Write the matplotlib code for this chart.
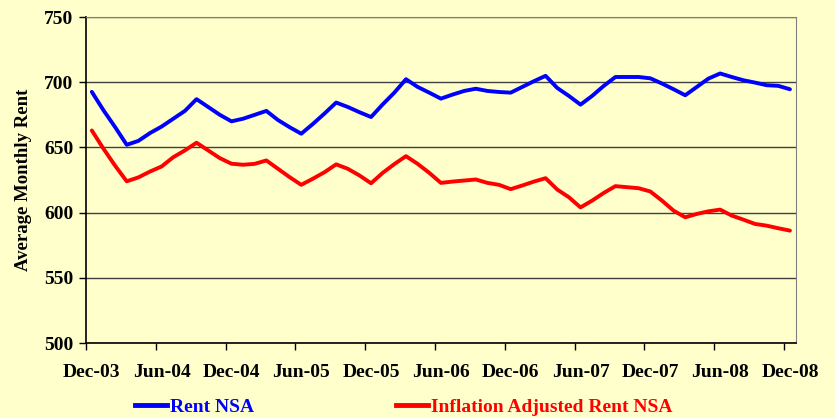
import numpy as np
import matplotlib.pyplot as plt
from matplotlib.lines import Line2D

# monthly values, Dec-03 .. Dec-08 (61 months)
rent_nsa = [692.6, 678.5, 665.6, 652.0, 655.0, 661.0, 666.0, 672.0, 678.0, 687.0,
            681.0, 675.0, 670.0, 672.0, 675.0, 678.0, 671.0, 665.5, 660.5, 668.0,
            676.0, 684.4, 681.0, 677.0, 673.3, 683.0, 692.0, 702.3, 696.4, 692.0,
            687.4, 690.5, 693.3, 695.0, 693.3, 692.5, 692.0, 696.4, 700.8, 704.9,
            695.6, 689.5, 682.8, 689.5, 697.2, 704.0, 704.0, 704.0, 703.0, 699.0,
            694.6, 690.0, 696.4, 702.8, 706.7, 704.0, 701.5, 699.7, 697.7, 697.2,
            694.6]
infl_adj_rent = [663.0, 649.0, 636.0, 624.0, 627.0, 631.5, 635.4, 642.5, 647.7, 653.6,
                 647.7, 641.8, 637.5, 636.7, 637.4, 640.0, 633.6, 627.2, 621.3, 626.0,
                 631.0, 637.0, 633.6, 628.5, 622.5, 630.5, 637.2, 643.3, 637.4, 630.5,
                 622.8, 623.8, 624.6, 625.4, 622.8, 621.3, 618.0, 620.8, 623.8, 626.4,
                 617.7, 611.8, 604.0, 609.2, 615.1, 620.3, 619.5, 618.7, 616.2, 609.2,
                 601.5, 596.4, 599.0, 601.0, 602.3, 597.7, 594.6, 591.3, 590.0, 588.0,
                 586.2]
tick_labels = ['Dec-03', 'Jun-04', 'Dec-04', 'Jun-05', 'Dec-05', 'Jun-06',
               'Dec-06', 'Jun-07', 'Dec-07', 'Jun-08', 'Dec-08']

bg = '#FFFFCC'
plt.rcParams['font.family'] = ['Liberation Serif', 'DejaVu Serif']
plt.rcParams['font.weight'] = 'bold'

fig = plt.figure(figsize=(8.35, 4.18), dpi=100, facecolor=bg)
ax = fig.add_axes([0.103, 0.1794, 0.850, 0.7799], facecolor=bg)

x = np.arange(len(rent_nsa))
ax.plot(x, rent_nsa, color='#0000FF', lw=2.8, solid_capstyle='round')
ax.plot(x, infl_adj_rent, color='#FF0000', lw=2.8, solid_capstyle='round')

ax.set_xlim(-0.5, len(x) - 0.5)
ax.set_ylim(500, 750)
ax.set_yticks(np.arange(500, 751, 50))
ax.yaxis.grid(True, color='#404040', lw=1.0)
ax.set_axisbelow(True)

# labels centred on months, tick marks on category boundaries
ax.set_xticks(np.arange(0, len(x), 6))
ax.set_xticklabels(tick_labels)
ax.set_xticks(np.arange(-0.5, len(x), 6), minor=True)
ax.tick_params(axis='x', which='major', length=0, pad=15, labelsize=14)
ax.tick_params(axis='x', which='minor', length=5, width=1, color='black')
ax.tick_params(axis='y', length=5, width=1, pad=4, labelsize=14)

for s in ['top', 'right']:
    ax.spines[s].set_color('#808080')
for s in ['left', 'bottom']:
    ax.spines[s].set_color('black')
    ax.spines[s].set_linewidth(1.2)

ax.set_ylabel('Average Monthly Rent', fontsize=13.5, fontweight='bold')
ax.yaxis.set_label_coords(-0.076, 0.5)

handles = [Line2D([], [], color='#0000FF', lw=3.5),
           Line2D([], [], color='#FF0000', lw=3.5)]
leg = fig.legend(handles, ['Rent NSA', 'Inflation Adjusted Rent NSA'],
                 loc='center', bbox_to_anchor=(0.483, 0.026), ncol=2,
                 frameon=False, fontsize=14, handlelength=1.65,
                 handletextpad=0.15, columnspacing=7.3)
for txt, c in zip(leg.get_texts(), ['#0000FF', '#FF0000']):
    txt.set_color(c)

fig.savefig('out.png', dpi=100, facecolor=bg)
